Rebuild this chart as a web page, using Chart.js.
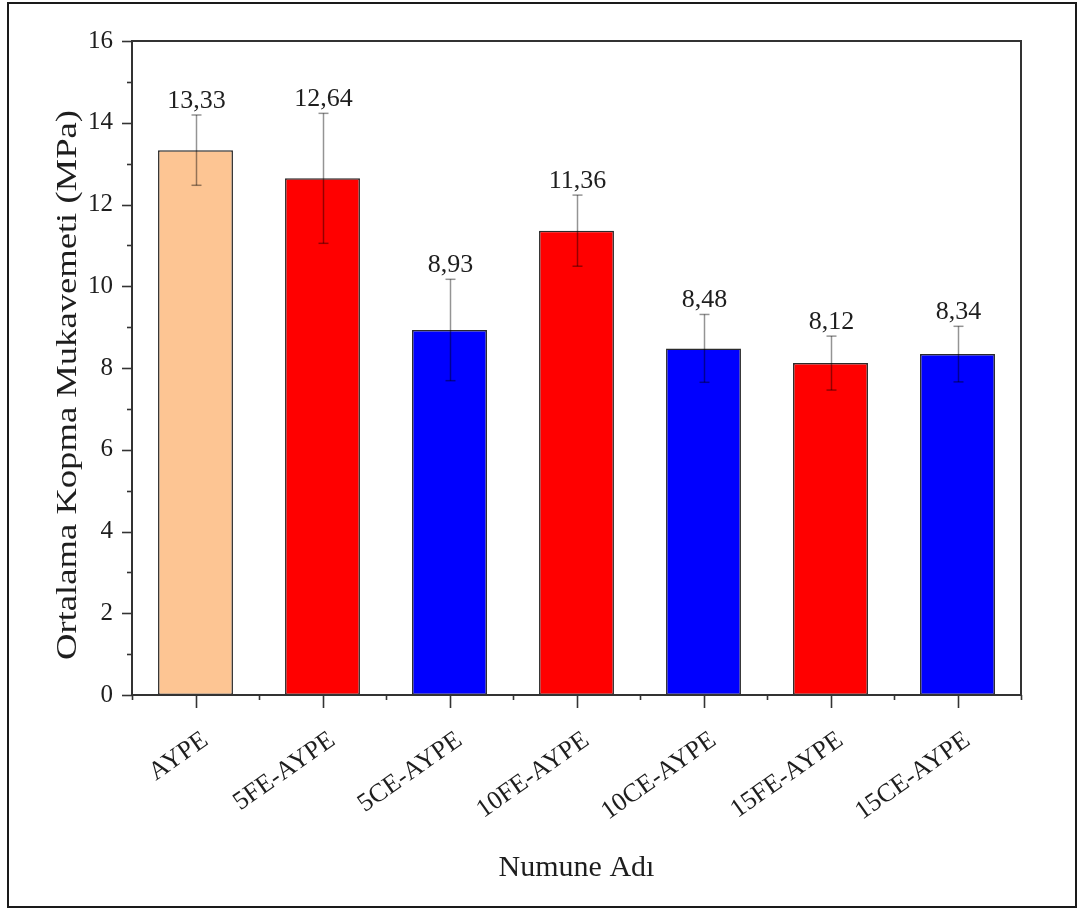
<!DOCTYPE html>
<html>
<head>
<meta charset="utf-8">
<script src="https://cdn.jsdelivr.net/npm/chart.js@4.4.1/dist/chart.umd.min.js"></script>
<style>
  html, body { margin: 0; padding: 0; background: #fff; }
  canvas { display: block; }
</style>
</head>
<body>
<canvas id="c" width="1081" height="910"></canvas>
<script>
// Sample names, mean breaking strength (MPa) and standard deviation
const categories = ['AYPE', '5FE-AYPE', '5CE-AYPE', '10FE-AYPE', '10CE-AYPE', '15FE-AYPE', '15CE-AYPE'];
const means      = [13.33, 12.64, 8.93, 11.36, 8.48, 8.12, 8.34];
const errors     = [0.86, 1.59, 1.24, 0.87, 0.83, 0.66, 0.68];
const barColors  = ['#FDC593', '#FF0000', '#0000FF', '#FF0000', '#0000FF', '#FF0000', '#0000FF'];
const yMin = 0, yMax = 16, yStep = 2;

const SERIF = '"Liberation Serif", "DejaVu Serif", serif';
const INK = '#1e1e1e';

function seg(ctx, x1, y1, x2, y2) {
  ctx.beginPath(); ctx.moveTo(x1, y1); ctx.lineTo(x2, y2); ctx.stroke();
}

// White page with a thin outer frame
const pageFrame = {
  id: 'pageFrame',
  beforeDraw(chart) {
    const ctx = chart.ctx;
    ctx.save();
    ctx.fillStyle = '#fff';
    ctx.fillRect(0, 0, chart.width, chart.height);
    ctx.strokeStyle = '#1a1a1a';
    ctx.lineWidth = 2;
    ctx.strokeRect(8, 3, 1068, 904);
    ctx.restore();
  }
};

// Axis box plus outward major/minor tick marks
const axisBox = {
  id: 'axisBox',
  afterDatasetsDraw(chart) {
    const { ctx, chartArea: a, scales: { x, y } } = chart;
    ctx.save();
    ctx.strokeStyle = '#333';
    ctx.lineWidth = 2;
    ctx.strokeRect(a.left, a.top, a.right - a.left, a.bottom - a.top);
    ctx.lineWidth = 1.6;
    for (let v = yMin; v <= yMax; v += yStep / 2) {
      const py = Math.round(y.getPixelForValue(v)) + 0.5;
      const len = (v % yStep === 0) ? 10 : 5;
      seg(ctx, a.left - len, py, a.left, py);
    }
    const n = categories.length;
    for (let i = 0; i < n; i++) {
      const px = Math.round(x.getPixelForValue(i)) + 0.5;
      seg(ctx, px, a.bottom, px, a.bottom + 13);
    }
    for (let i = 0; i <= n; i++) {
      const px = Math.round(x.getPixelForValue(i - 0.5)) + 0.5;
      seg(ctx, px, a.bottom, px, a.bottom + 5);
    }
    ctx.restore();
  }
};

// Standard-deviation whiskers and the mean value printed above each one
const errorBars = {
  id: 'errorBars',
  afterDatasetsDraw(chart) {
    const { ctx, scales: { x, y } } = chart;
    ctx.save();
    ctx.strokeStyle = 'rgba(0,0,0,0.42)';
    ctx.lineWidth = 1.5;
    means.forEach((m, i) => {
      const cx = Math.round(x.getPixelForValue(i)) + 0.5;
      const top = y.getPixelForValue(m + errors[i]);
      const bot = y.getPixelForValue(m - errors[i]);
      seg(ctx, cx, top, cx, bot);
      seg(ctx, cx - 5, top, cx + 5, top);
      seg(ctx, cx - 5, bot, cx + 5, bot);
      ctx.fillStyle = INK;
      ctx.font = '26px ' + SERIF;
      ctx.textAlign = 'center';
      ctx.textBaseline = 'alphabetic';
      ctx.fillText(m.toFixed(2).replace('.', ','), cx, top - 7);
    });
    ctx.restore();
  }
};

// Vertical axis title
const yTitle = {
  id: 'yTitle',
  afterDraw(chart) {
    const ctx = chart.ctx;
    ctx.save();
    ctx.translate(68, 385);
    ctx.rotate(-Math.PI / 2);
    ctx.scale(1.22, 1);
    ctx.fillStyle = INK;
    ctx.font = '30px ' + SERIF;
    ctx.textAlign = 'center';
    ctx.textBaseline = 'middle';
    ctx.fillText('Ortalama Kopma Mukavemeti (MPa)', 0, 0);
    ctx.restore();
  }
};

new Chart(document.getElementById('c'), {
  type: 'bar',
  data: {
    labels: categories,
    datasets: [{
      data: means,
      backgroundColor: barColors,
      borderColor: '#2a2a2a',
      borderWidth: 1.5,
      borderSkipped: false,
      barPercentage: 0.59,
      categoryPercentage: 1
    }]
  },
  options: {
    responsive: false,
    animation: false,
    devicePixelRatio: 1,
    layout: { padding: { left: 0, top: 41, right: 60, bottom: 0 } },
    plugins: { legend: { display: false }, tooltip: { enabled: false } },
    scales: {
      x: {
        offset: true,
        grid: { display: false, drawTicks: false },
        border: { display: false },
        ticks: {
          color: INK,
          font: { family: SERIF, size: 26 },
          minRotation: 35,
          maxRotation: 35,
          autoSkip: false,
          padding: 30,
          labelOffset: 10
        },
        title: {
          display: true,
          text: 'Numune Adı',
          color: INK,
          font: { family: SERIF, size: 30 },
          padding: { top: 0, bottom: 24 }
        },
        afterFit(s) { s.height = 215; }
      },
      y: {
        min: yMin,
        max: yMax,
        grid: { display: false, drawTicks: false },
        border: { display: false },
        ticks: {
          stepSize: yStep,
          color: INK,
          font: { family: SERIF, size: 25 },
          padding: 19
        },
        afterFit(s) { s.width = 132; }
      }
    }
  },
  plugins: [pageFrame, errorBars, axisBox, yTitle]
});
</script>
</body>
</html>
